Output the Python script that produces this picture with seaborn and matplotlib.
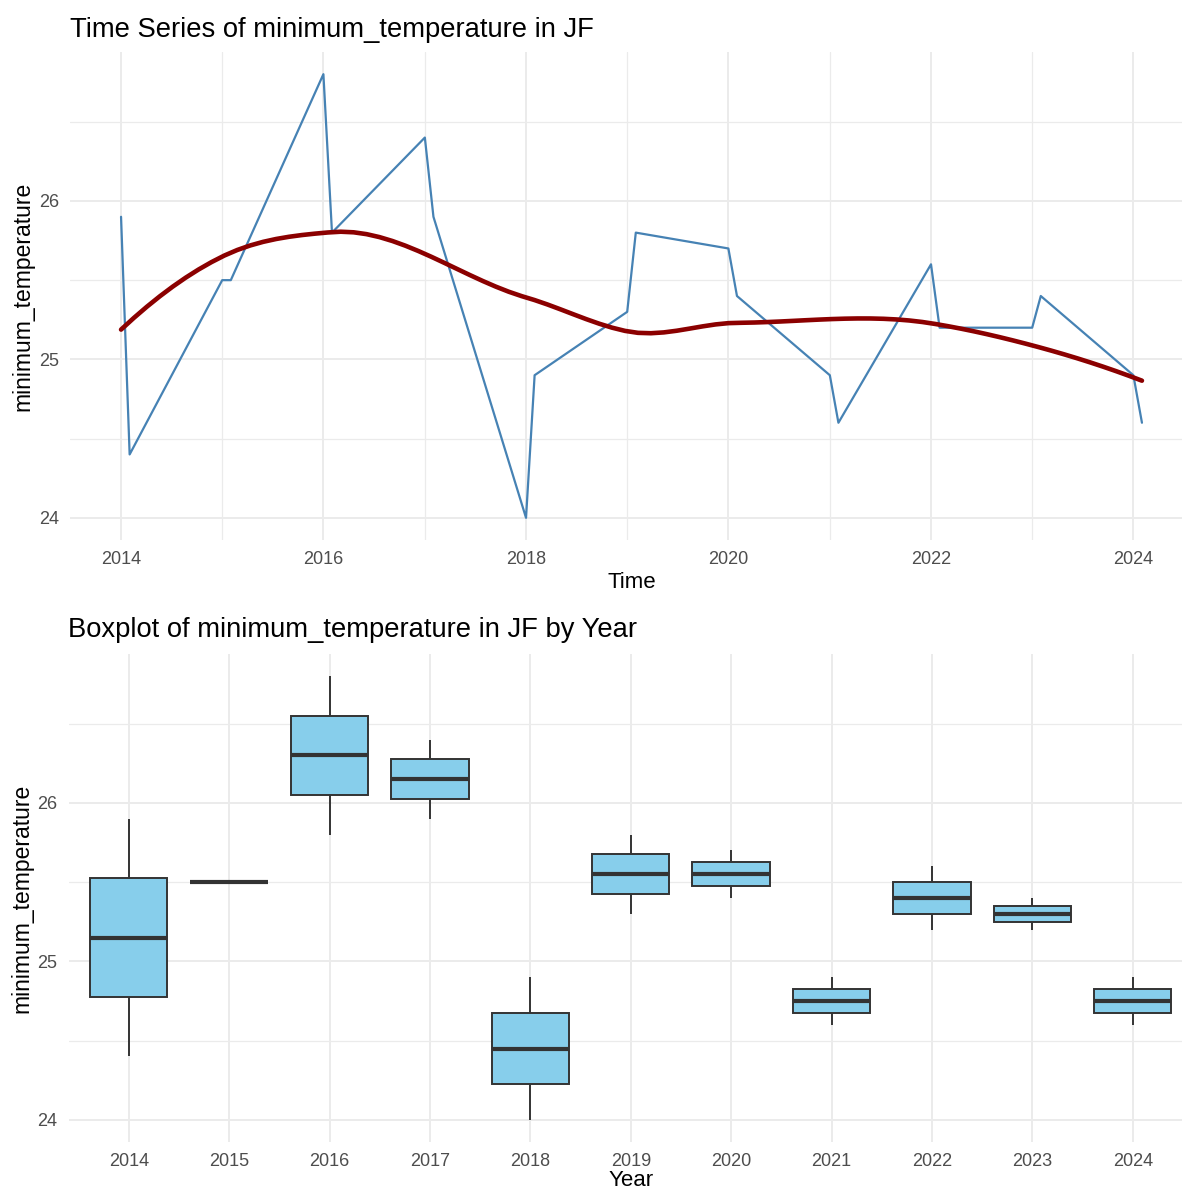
import numpy as np
import pandas as pd
import matplotlib
matplotlib.use("Agg")
import matplotlib.pyplot as plt
import matplotlib.dates as mdates
from matplotlib.ticker import MultipleLocator
import seaborn as sns

# ---- data ----
years = [2014, 2014, 2015, 2015, 2016, 2016, 2017, 2017, 2018, 2018, 2019, 2019,
         2020, 2020, 2021, 2021, 2022, 2022, 2023, 2023, 2024, 2024]
months = [1, 2] * 11
min_temp = [25.9, 24.4, 25.5, 25.5, 26.8, 25.8, 26.4, 25.9, 24.0, 24.9, 25.3, 25.8,
            25.7, 25.4, 24.9, 24.6, 25.6, 25.2, 25.2, 25.4, 24.9, 24.6]
year_labels = [str(y) for y in range(2014, 2025)]

df = pd.DataFrame({"year": years, "month": months, "value": min_temp})
df["date"] = pd.to_datetime(dict(year=df["year"], month=df["month"], day=1))
df["year_str"] = df["year"].astype(str)


# ---- loess (degree 2, span 0.75) with kd-tree vertex interpolation, like R ----
def local_fit(x, y, x0, q):
    n = len(x)
    d = np.abs(x - x0)
    h = np.sort(d)[q - 1]
    w = np.clip(1 - (d / h) ** 3, 0, None) ** 3
    X = np.vstack([np.ones(n), x - x0, (x - x0) ** 2]).T
    sw = np.sqrt(w)
    beta = np.linalg.lstsq(X * sw[:, None], y * sw, rcond=None)[0]
    return beta[0], beta[1]


def loess(x, y, xs, span=0.75, cell=0.2):
    order = np.argsort(x)
    x, y = x[order], y[order]
    n = len(x)
    q = int(np.floor(n * span))
    fc = int(np.floor(n * span * cell))
    mu = 0.005 * (x.max() - x.min())
    verts = [x.min() - mu, x.max() + mu]

    def split(l, u):
        if u - l + 1 <= fc:
            return
        m = (l + u + 2) // 2 - 1
        verts.append(x[m])
        split(l, m)
        split(m + 1, u)

    split(0, n - 1)
    verts = np.unique(verts)
    vals = np.array([local_fit(x, y, v, q) for v in verts])
    out = []
    for x0 in xs:
        i = np.clip(np.searchsorted(verts, x0) - 1, 0, len(verts) - 2)
        a, b = verts[i], verts[i + 1]
        hlen = b - a
        t = (x0 - a) / hlen
        h00 = 2 * t**3 - 3 * t**2 + 1
        h10 = t**3 - 2 * t**2 + t
        h01 = -2 * t**3 + 3 * t**2
        h11 = t**3 - t**2
        out.append(h00 * vals[i, 0] + h10 * hlen * vals[i, 1]
                   + h01 * vals[i + 1, 0] + h11 * hlen * vals[i + 1, 1])
    return np.array(out)


xnum = mdates.date2num(df["date"])
xs = np.linspace(xnum.min(), xnum.max(), 80)
xc = xnum.mean()
ys = loess((xnum - xc) / 365.25, np.array(min_temp, float), (xs - xc) / 365.25)
smooth = pd.DataFrame({"date": mdates.num2date(xs), "value": ys})
smooth["date"] = pd.to_datetime(smooth["date"]).dt.tz_localize(None)

# ---- style ----
sns.set_style("white")
plt.rcParams["font.family"] = ["Liberation Sans", "DejaVu Sans"]

GRID = "#EBEBEB"
TICK = "#4D4D4D"

W, H = 1182, 1191
fig = plt.figure(figsize=(W / 100, H / 100), dpi=100)
ax1 = fig.add_axes([70 / W, 1 - 540 / H, 1123 / W, 488 / H])
ax2 = fig.add_axes([68.5 / W, 1 - 1142 / H, 1124.5 / W, 488 / H])


def style(ax):
    for s in ax.spines.values():
        s.set_visible(False)
    ax.tick_params(axis="both", which="both", length=0, labelsize=13,
                   labelcolor=TICK, pad=8)
    ax.grid(which="major", color=GRID, linewidth=1.4)
    ax.grid(which="minor", color=GRID, linewidth=0.9)
    ax.set_axisbelow(True)
    ax.yaxis.set_major_locator(MultipleLocator(1))
    ax.yaxis.set_minor_locator(MultipleLocator(0.5))
    ax.set_ylim(24.0 - 0.14, 26.8 + 0.14)


# ---- top: time series ----
sns.lineplot(data=df, x="date", y="value", ax=ax1, color="#4682B4",
             linewidth=1.6, estimator=None, sort=True)
sns.lineplot(data=smooth, x="date", y="value", ax=ax1, color="#8B0000",
             linewidth=3.3, estimator=None)
style(ax1)
rng = xnum.max() - xnum.min()
ax1.set_xlim(xnum.min() - 0.05 * rng, xnum.max() + 0.05 * rng)
ax1.xaxis.set_major_locator(mdates.YearLocator(2))
ax1.xaxis.set_minor_locator(mdates.YearLocator(1))
ax1.xaxis.set_major_formatter(mdates.DateFormatter("%Y"))
ax1.set_xlabel("Time", fontsize=16, color="black", labelpad=3)
ax1.set_ylabel("minimum_temperature", fontsize=16.5, color="black", labelpad=3)
ax1.set_title("Time Series of minimum_temperature in JF", loc="left",
              fontsize=19.7, color="black", pad=11)

# ---- bottom: boxplot ----
sns.boxplot(data=df, x="year_str", y="value", order=year_labels, ax=ax2,
            width=0.77, color="#87CEEB", saturation=1, linecolor="#333333",
            linewidth=1.4, showcaps=False, showfliers=False, whis=np.inf,
            medianprops={"linewidth": 3.0, "color": "#333333"})
style(ax2)
ax2.xaxis.grid(False, which="minor")
ax2.set_xlim(-0.6, len(year_labels) - 1 + 0.6)
ax2.set_xlabel("Year", fontsize=16, color="black", labelpad=0)
ax2.set_ylabel("minimum_temperature", fontsize=16.5, color="black", labelpad=3)
ax2.set_title("Boxplot of minimum_temperature in JF by Year", loc="left",
              fontsize=19.7, color="black", pad=12)

fig.savefig("out.png", dpi=100)
